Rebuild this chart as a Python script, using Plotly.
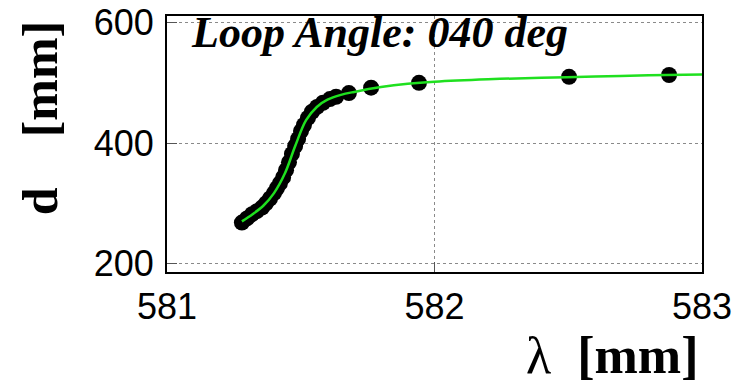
import plotly.graph_objects as go

# Measured points: wavelength lambda [mm] vs distance d [mm]
lam = [581.280, 581.299, 581.318, 581.336, 581.355, 581.370, 581.385, 581.400,
       581.411, 581.422, 581.434, 581.445, 581.456, 581.467, 581.479, 581.490,
       581.501, 581.512, 581.527, 581.542, 581.561, 581.583, 581.609, 581.632,
       581.680, 581.763, 581.942, 582.503, 582.877]
d = [268, 275, 282, 287, 293, 300, 308, 317,
     325, 333, 343, 355, 368, 382, 395, 407,
     420, 430, 442, 452, 460, 467, 473, 477,
     483, 492, 500, 510, 513]

# Fitted curve
fit_lam = [581.28, 581.32, 581.36, 581.40, 581.44, 581.48, 581.52, 581.56,
           581.60, 581.65, 581.70, 581.80, 581.90, 582.0, 582.2, 582.4,
           582.6, 582.8, 583.0]
fit_d = [270, 282, 296, 317, 349, 396, 438, 460,
         472, 480, 485, 493, 498.5, 502, 506, 508.5,
         510.5, 512.5, 514]

x_ticks = [581, 582, 583]
y_ticks = [200, 400, 600]

fig = go.Figure()
fig.add_trace(go.Scatter(
    x=lam, y=d, mode="markers",
    marker=dict(color="black", size=16),
    showlegend=False, cliponaxis=False,
))
fig.add_trace(go.Scatter(
    x=fit_lam, y=fit_d, mode="lines", line_shape="spline",
    line=dict(color="#1fe01f", width=2.5),
    showlegend=False,
))

axis_common = dict(
    showgrid=True, gridcolor="#8a8a8a", gridwidth=1, griddash="3px,3px",
    showline=True, linecolor="black", linewidth=2, mirror=True,
    ticks="inside", ticklen=10, tickcolor="#555", tickwidth=1,
    zeroline=False, automargin=False,
    tickfont=dict(family="Liberation Sans", size=36, color="black"),
)

fig.update_xaxes(range=[581, 583], tickvals=x_ticks, ticktext=[str(v) for v in x_ticks],
                 ticklabelstandoff=2, **axis_common)
fig.update_yaxes(range=[186, 611], tickvals=y_ticks, ticktext=[str(v) for v in y_ticks],
                 ticklabelstandoff=4, **axis_common)

fig.add_annotation(
    text="<b><i>Loop Angle: 040 deg</i></b>",
    xref="paper", yref="paper", x=0.042, y=1.04, xanchor="left", yanchor="top",
    showarrow=False, font=dict(family="Liberation Serif", size=44, color="black"),
)
fig.add_annotation(
    text="<b>d&nbsp;&nbsp;&nbsp;&nbsp;[mm]</b>", textangle=-90,
    xref="paper", yref="paper", x=-0.236, y=0.60, xanchor="center", yanchor="middle",
    showarrow=False, font=dict(family="Liberation Serif", size=50, color="black"),
)
fig.add_annotation(
    text="λ&nbsp;&nbsp;<b>[mm]</b>",
    xref="paper", yref="paper", x=0.997, y=-0.325, xanchor="right", yanchor="middle",
    showarrow=False, font=dict(family="Liberation Serif", size=52, color="black"),
)

fig.update_layout(
    width=740, height=387,
    margin=dict(l=167, r=38, t=16, b=115),
    paper_bgcolor="white", plot_bgcolor="white",
)

fig.write_html("out.html")
